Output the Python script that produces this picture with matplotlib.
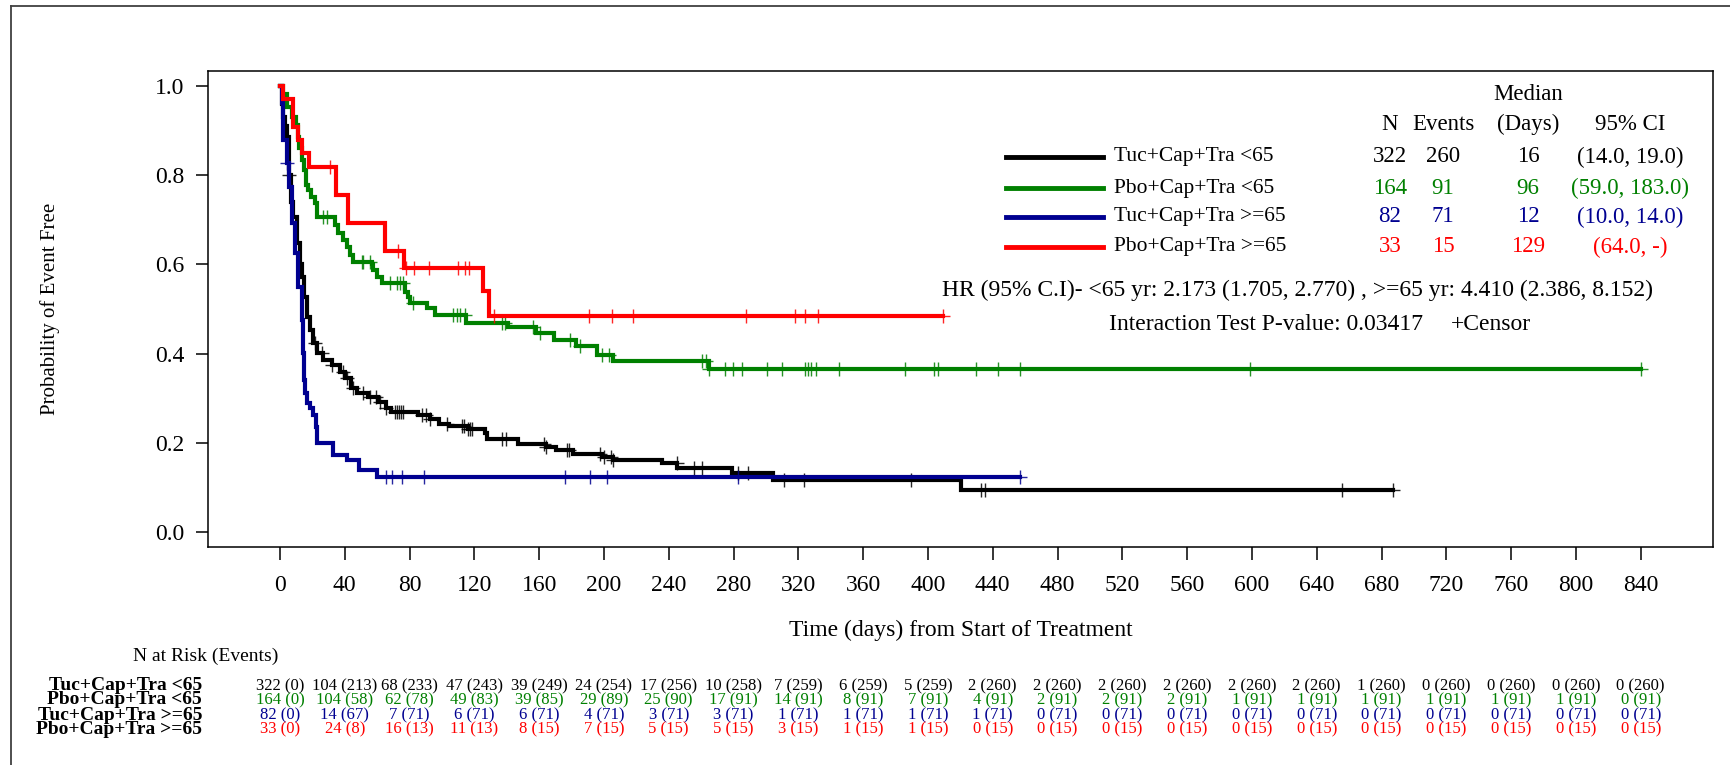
import numpy as np
import matplotlib
matplotlib.use('Agg')
import matplotlib.pyplot as plt
from matplotlib import transforms
from matplotlib.lines import Line2D

plt.rcParams['font.family'] = ['Liberation Serif', 'DejaVu Serif']

# ---- data ----
groups = ['Tuc+Cap+Tra <65', 'Pbo+Cap+Tra <65', 'Tuc+Cap+Tra >=65', 'Pbo+Cap+Tra >=65']
colors = ['#000000', '#008000', '#000090', '#ff0000']

n_pat = ['322', '164', '82', '33']
n_events = ['260', '91', '71', '15']
median_days = ['16', '96', '12', '129']
ci_95 = ['(14.0, 19.0)', '(59.0, 183.0)', '(10.0, 14.0)', '(64.0, -)']

# step times (days) and survival after each step
tuc_lt65_t = [0, 1, 2, 3, 4.5, 5.8, 7, 8.2, 10.3, 12.3, 13.4, 14.8, 16.5, 18.5, 20.6, 23, 26.7,
              32.1, 36.8, 40.4, 43.9, 47.5, 54.6, 60.5, 65.2, 68.8, 85.3, 92.4, 98.3, 104.2,
              116, 126.6, 127.8, 146.7, 164.4, 170.3, 180.9, 198.6, 205.4, 235.9, 245.4,
              278.8, 304.6, 420.5, 687]
tuc_lt65_s = [1.0, 0.96, 0.93, 0.91, 0.886, 0.80, 0.74, 0.707, 0.647, 0.602, 0.572, 0.528, 0.483,
              0.453, 0.423, 0.401, 0.386, 0.374, 0.359, 0.345, 0.324, 0.311, 0.302, 0.292, 0.277,
              0.268, 0.262, 0.253, 0.242, 0.238, 0.232, 0.221, 0.208, 0.197, 0.191, 0.184, 0.175,
              0.169, 0.161, 0.154, 0.143, 0.133, 0.117, 0.094, 0.094]
tuc_lt65_cens = [5.8, 21.5, 26.2, 32.1, 39.2, 41.5, 45.1, 51, 55.7, 59.3, 61.6, 65.2, 71.1, 72.3,
                 73.5, 74.6, 75.8, 87.7, 90, 92.4, 103, 112.5, 113.7, 116, 117.2, 118.3, 137.2,
                 139.6, 163.2, 164.4, 177.4, 178.6, 197.5, 199.8, 204.6, 205.7, 244.8, 255.8,
                 260.5, 282.6, 288.9, 310.9, 323.5, 389.6, 433, 435.3, 655.7, 687]

pbo_lt65_t = [0, 2.1, 4.5, 7.2, 9.7, 10.9, 11.9, 13.4, 15.0, 16.0, 17.5, 19.1, 21.6, 22.6, 34.0,
              36.0, 39.0, 41.2, 43.2, 44.9, 56.6, 57.6, 59.7, 62.8, 77.2, 79.2, 80.2, 90.5, 96,
              115, 141, 158, 169, 183, 195.5, 205.7, 265, 840]
pbo_lt65_s = [1.0, 0.982, 0.954, 0.931, 0.913, 0.886, 0.860, 0.834, 0.812, 0.778, 0.767, 0.752,
              0.737, 0.707, 0.688, 0.670, 0.655, 0.640, 0.621, 0.606, 0.601, 0.587, 0.572, 0.558,
              0.539, 0.528, 0.513, 0.503, 0.487, 0.468, 0.460, 0.446, 0.430, 0.416, 0.397, 0.383,
              0.365, 0.365]
pbo_lt65_cens = [26.7, 28.8, 50.4, 51.4, 55.6, 67.9, 72, 74, 76.1, 82.3, 107, 109, 111, 114.2,
                 136.8, 138.9, 156.4, 160.5, 179, 185.2, 199, 203, 260.5, 262.7, 265, 275, 279.4,
                 285, 300.5, 310, 324, 326, 327.6, 330.7, 345, 386, 404, 406, 429.6, 443, 457,
                 599, 840]

tuc_ge65_t = [0, 1, 2.1, 4.5, 5.6, 7.2, 9.3, 11.3, 13.4, 14.4, 14.9, 15.4, 16.5, 18.5, 20.6, 22.2,
              22.6, 32.9, 41.2, 49, 59.7, 457]
tuc_ge65_s = [1.0, 0.961, 0.879, 0.827, 0.774, 0.692, 0.625, 0.550, 0.475, 0.401, 0.341, 0.311,
              0.289, 0.277, 0.262, 0.236, 0.200, 0.173, 0.161, 0.139, 0.124, 0.124]
tuc_ge65_cens = [4.5, 65.2, 69.3, 75.5, 89, 176, 191.6, 202, 282.5, 457]

pbo_ge65_t = [0, 1.6, 7.8, 11.3, 13.4, 18.1, 34.6, 41.8, 64.8, 76.5, 125.5, 129, 409]
pbo_ge65_s = [1.0, 0.970, 0.909, 0.879, 0.849, 0.819, 0.756, 0.693, 0.630, 0.593, 0.540, 0.484,
              0.484]
pbo_ge65_cens = [31, 73, 78, 83, 92, 110, 114, 117, 132, 191, 205, 218, 288, 318, 324, 332, 409]

curves = [(tuc_lt65_t, tuc_lt65_s, tuc_lt65_cens),
          (pbo_lt65_t, pbo_lt65_s, pbo_lt65_cens),
          (tuc_ge65_t, tuc_ge65_s, tuc_ge65_cens),
          (pbo_ge65_t, pbo_ge65_s, pbo_ge65_cens)]

risk_days = list(range(0, 841, 40))
risk_tuc_lt65 = ['322 (0)', '104 (213)', '68 (233)', '47 (243)', '39 (249)', '24 (254)', '17 (256)',
                 '10 (258)', '7 (259)', '6 (259)', '5 (259)', '2 (260)', '2 (260)', '2 (260)',
                 '2 (260)', '2 (260)', '2 (260)', '1 (260)', '0 (260)', '0 (260)', '0 (260)', '0 (260)']
risk_pbo_lt65 = ['164 (0)', '104 (58)', '62 (78)', '49 (83)', '39 (85)', '29 (89)', '25 (90)',
                 '17 (91)', '14 (91)', '8 (91)', '7 (91)', '4 (91)', '2 (91)', '2 (91)', '2 (91)',
                 '1 (91)', '1 (91)', '1 (91)', '1 (91)', '1 (91)', '1 (91)', '0 (91)']
risk_tuc_ge65 = ['82 (0)', '14 (67)', '7 (71)', '6 (71)', '6 (71)', '4 (71)', '3 (71)', '3 (71)',
                 '1 (71)', '1 (71)', '1 (71)', '1 (71)'] + ['0 (71)'] * 10
risk_pbo_ge65 = ['33 (0)', '24 (8)', '16 (13)', '11 (13)', '8 (15)', '7 (15)', '5 (15)', '5 (15)',
                 '3 (15)', '1 (15)', '1 (15)'] + ['0 (15)'] * 11
risk_rows = [risk_tuc_lt65, risk_pbo_lt65, risk_tuc_ge65, risk_pbo_ge65]

W, H = 1730, 765


def fx(px):
    return px / W


def fy(py):
    return 1 - py / H


fig = plt.figure(figsize=(W / 100, H / 100), dpi=100)
ax = fig.add_axes([fx(208), fy(547), fx(1713 - 208), (547 - 71) / H])

# Curves with censor marks
for (t, s, cens), col in zip(curves, colors):
    ax.step(t, s, where='post', color=col, linewidth=3.0, solid_joinstyle='miter')
    idx = np.searchsorted(t, cens, side='right') - 1
    ax.plot(cens, np.array(s)[idx], linestyle='none', marker='+', markersize=10,
            markeredgewidth=1.0, color=col, alpha=0.85)

ax.set_xlim(-44.4, 884.6)
ax.set_ylim(-0.0336, 1.0336)
ax.set_xticks(risk_days)
ax.set_yticks([0.0, 0.2, 0.4, 0.6, 0.8, 1.0])
ax.set_yticklabels(['%.1f' % v for v in [0.0, 0.2, 0.4, 0.6, 0.8, 1.0]])
ax.tick_params(axis='both', direction='out', length=9, width=1.1, labelsize=17)
ax.tick_params(axis='x', pad=11)
ax.tick_params(axis='y', pad=8)
for sp in ax.spines.values():
    sp.set_linewidth(1.1)
ax.set_xlabel('Time (days) from Start of Treatment', fontsize=17)
ax.xaxis.set_label_coords(0.5, (547 - 620) / 476)
ax.set_ylabel('Probability of Event Free', fontsize=15)
ax.yaxis.set_label_coords(-(208 - 60) / 1505, 0.5)

# Legend / summary table
row_y = [157, 188, 217, 247]
col_x = [1390, 1443, 1528, 1630]
fig.text(fx(1528), fy(94), 'Median', fontsize=16.5, ha='center', va='center')
for x, lab in zip(col_x, ['N', 'Events', '(Days)', '95% CI']):
    fig.text(fx(x), fy(124), lab, fontsize=16.5, ha='center', va='center')
for i, y in enumerate(row_y):
    fig.add_artist(Line2D([fx(1006), fx(1103)], [fy(y), fy(y)], color=colors[i], linewidth=3.5))
    fig.text(fx(1114), fy(y), groups[i], fontsize=15.5, ha='left', va='center')
    for x, val in zip(col_x, [n_pat[i], n_events[i], median_days[i], ci_95[i]]):
        fig.text(fx(x), fy(y), val, fontsize=16.5, ha='center', va='center', color=colors[i])

fig.text(fx(1297), fy(290), 'HR (95% C.I)- <65 yr: 2.173 (1.705, 2.770) , >=65 yr: 4.410 (2.386, 8.152)',
         fontsize=17, ha='center', va='center')
fig.text(fx(1109), fy(324), 'Interaction Test P-value: 0.03417', fontsize=17, ha='left', va='center')
fig.text(fx(1451), fy(324), '+Censor', fontsize=17, ha='left', va='center')

# Number at risk table
fig.text(fx(133), fy(656), 'N at Risk (Events)', fontsize=14, ha='left', va='center')
trans = transforms.blended_transform_factory(ax.transData, fig.transFigure)
risk_y = [686, 700, 715, 729]
for i, y in enumerate(risk_y):
    fig.text(fx(202), fy(y), groups[i], fontsize=14, fontweight='bold', ha='right', va='center')
    for d, val in zip(risk_days, risk_rows[i]):
        ax.text(d, fy(y), val, transform=trans, fontsize=12, ha='center', va='center',
                color=colors[i], clip_on=False)

# outer frame
fig.add_artist(Line2D([fx(11), fx(11)], [fy(6), 0], color='#404040', linewidth=1.3))
fig.add_artist(Line2D([fx(11), 1], [fy(6), fy(6)], color='#404040', linewidth=1.3))

fig.savefig('out.png', dpi=100)
